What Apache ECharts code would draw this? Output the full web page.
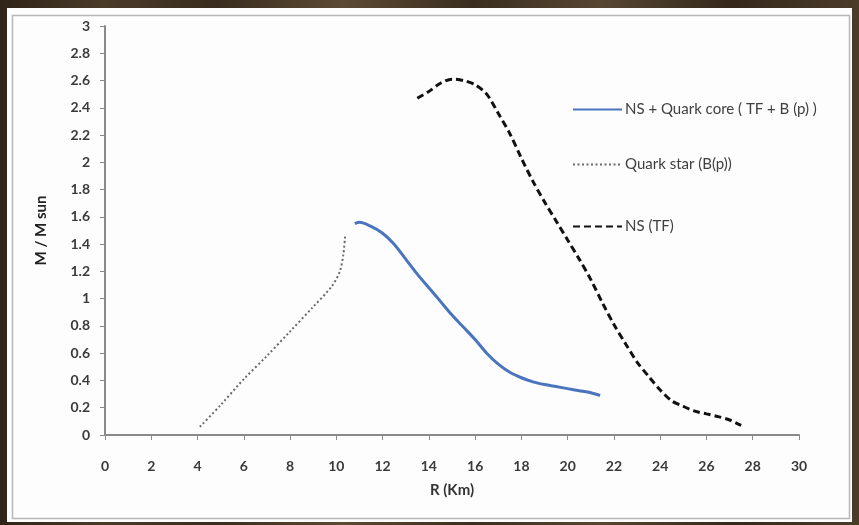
<!DOCTYPE html>
<html>
<head>
<meta charset="utf-8">
<script src="https://cdn.jsdelivr.net/npm/echarts@6/dist/echarts.min.js"></script>
<style>
  html, body { margin: 0; padding: 0; }
  body {
    width: 859px; height: 525px; overflow: hidden; position: relative;
    background: linear-gradient(90deg, #2f2418 0%, #4a3a28 12%, #3a2d1f 25%, #5c4a33 40%, #3b2e20 55%, #574632 70%, #35291c 85%, #4b3b29 100%);
  }
  #panel {
    position: absolute; left: 7px; top: 8px; width: 845px; height: 514px;
    background: #fdfdfd;
  }
  #chart { position: absolute; left: 0; top: 0; width: 859px; height: 525px; }
</style>
</head>
<body>
<div id="panel"></div>
<div id="chart"></div>
<script>
// Mass-radius relations, R in km, M in solar masses
const xTicks = [0, 2, 4, 6, 8, 10, 12, 14, 16, 18, 20, 22, 24, 26, 28, 30];
const yTicks = [0, 0.2, 0.4, 0.6, 0.8, 1, 1.2, 1.4, 1.6, 1.8, 2, 2.2, 2.4, 2.6, 2.8, 3];

const hybridR = [10.8, 11.0, 11.5, 12.0, 12.5, 13.0, 13.5, 14.0, 14.5, 15.0, 15.5, 16.0, 16.5, 17.0, 17.5, 18.0, 18.5, 19.0, 19.5, 20.0, 20.5, 21.0, 21.4];
const hybridM = [1.55, 1.56, 1.53, 1.48, 1.40, 1.29, 1.18, 1.08, 0.98, 0.88, 0.79, 0.70, 0.60, 0.52, 0.46, 0.42, 0.39, 0.37, 0.355, 0.34, 0.325, 0.31, 0.29];

const quarkR = [4.1, 5, 6, 7, 8, 9, 9.8, 10.15, 10.3, 10.38];
const quarkM = [0.06, 0.22, 0.41, 0.58, 0.76, 0.94, 1.09, 1.2, 1.32, 1.46];

const nsR = [13.5, 14.0, 14.5, 15.0, 15.5, 16.0, 16.5, 17.0, 17.5, 18.0, 18.5, 19.0, 19.5, 20.0, 20.5, 21.0, 21.5, 22.0, 22.5, 23.0, 23.5, 24.0, 24.5, 25.0, 25.5, 26.0, 26.5, 27.0, 27.5];
const nsM = [2.47, 2.52, 2.58, 2.61, 2.60, 2.57, 2.50, 2.36, 2.21, 2.03, 1.86, 1.71, 1.57, 1.43, 1.29, 1.14, 0.97, 0.81, 0.67, 0.535, 0.43, 0.33, 0.25, 0.21, 0.175, 0.155, 0.135, 0.11, 0.07];

const names = ['NS + Quark core ( TF + B (p) )', 'Quark star (B(p))', 'NS (TF)'];

const pairs = (xs, ys) => xs.map((x, i) => [x, ys[i]]);

const font = 'Lato, "Open Sans", sans-serif';
const axisGray = '#8a8a8a';

function legendAt(name, top) {
  return {
    data: [name], left: 567, top: top, orient: 'vertical',
    itemWidth: 49, itemHeight: 14, itemGap: 0,
    itemStyle: { opacity: 0 },
    textStyle: { fontFamily: font, fontSize: 15, color: '#404040', padding: [0, 0, 0, -2] },
    selectedMode: false
  };
}

const chart = echarts.init(document.getElementById('chart'), null, { renderer: 'canvas' });
chart.setOption({
  animation: false,
  backgroundColor: 'transparent',
  graphic: [{
    type: 'rect', shape: { x: 12.5, y: 15.5, width: 837, height: 503 },
    style: { fill: 'none', stroke: '#b8b8b8', lineWidth: 1.5 }, silent: true
  }],
  grid: { left: 105, right: 60, top: 26, bottom: 90 },
  legend: [legendAt(names[0], 97), legendAt(names[1], 152), legendAt(names[2], 214)],
  xAxis: {
    type: 'value', min: 0, max: 30, interval: 2,
    name: 'R (Km)', nameLocation: 'middle', nameGap: 48,
    nameTextStyle: { fontFamily: font, fontSize: 15, color: '#333', fontWeight: 'bold' },
    axisLine: { show: true, lineStyle: { color: axisGray, width: 2 } },
    axisTick: { show: true, length: 5, lineStyle: { color: axisGray, width: 1 } },
    axisLabel: { margin: 24, fontFamily: font, fontSize: 14, color: '#3a3a3a', fontWeight: 'bold',
      formatter: v => xTicks.includes(v) ? String(v) : '' },
    splitLine: { show: false }
  },
  yAxis: {
    type: 'value', min: 0, max: 3, interval: 0.2,
    name: 'M / M sun', nameLocation: 'middle', nameGap: 56, nameRotate: 90,
    nameTextStyle: { fontFamily: font, fontSize: 15, color: '#222', fontWeight: 'bold' },
    axisLine: { show: true, lineStyle: { color: axisGray, width: 2 } },
    axisTick: { show: true, length: 5, lineStyle: { color: axisGray, width: 1 } },
    axisLabel: { margin: 15, fontFamily: font, fontSize: 14, color: '#3a3a3a', fontWeight: 'bold',
      formatter: v => {
        const t = yTicks.find(k => Math.abs(k - v) < 1e-6);
        return t === undefined ? '' : String(t);
      } },
    splitLine: { show: false }
  },
  series: [
    {
      name: names[0], type: 'line', data: pairs(hybridR, hybridM),
      symbol: 'none', smooth: 0.3,
      lineStyle: { color: '#4a74bd', width: 3 }, itemStyle: { color: '#4a74bd' }
    },
    {
      name: names[1], type: 'line', data: pairs(quarkR, quarkM),
      symbol: 'none', smooth: 0.3,
      lineStyle: { color: '#6a6a6a', width: 2, type: [2, 2.5] }, itemStyle: { color: '#6a6a6a' }
    },
    {
      name: names[2], type: 'line', data: pairs(nsR, nsM),
      symbol: 'none', smooth: 0.3,
      lineStyle: { color: '#111', width: 3, type: [7, 4] }, itemStyle: { color: '#111' }
    }
  ]
});
</script>
</body>
</html>
